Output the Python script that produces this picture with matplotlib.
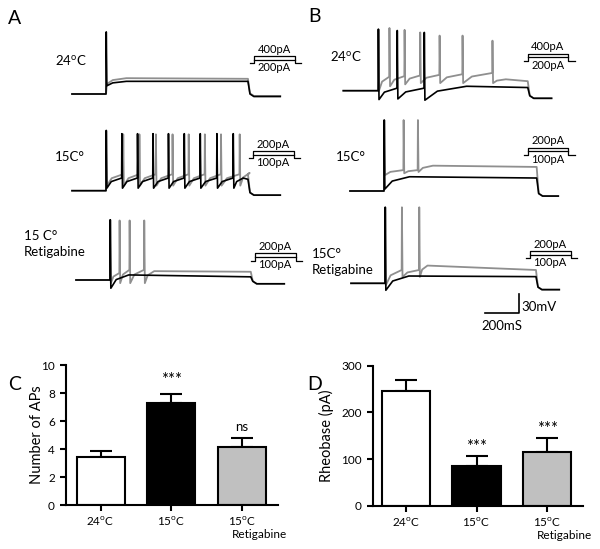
import numpy as np
import matplotlib
matplotlib.use('Agg')
import matplotlib.pyplot as plt

plt.rcParams['font.family'] = ['Lato', 'DejaVu Sans']
plt.rcParams['mathtext.fontset'] = 'custom'
plt.rcParams['mathtext.rm'] = 'Lato'

W, H = 600, 549
MS_PX = 34 / 200.0     # px per ms (scale bar 200 ms)
MV_PX = 19 / 30.0      # px per mV (scale bar 30 mV)
V_REST = -70
T_MAX, V_LO, V_HI = 1300, -125, 55

# ---- bar chart data ----
groups = ['24$^{\\mathregular{o}}$C', '15$^{\\mathregular{o}}$C', '15$^{\\mathregular{o}}$C']
bar_colors = ['white', 'black', '#c0c0c0']
n_aps = [3.45, 7.26, 4.12]
n_aps_err = [0.44, 0.69, 0.68]
n_aps_sig = ['', '***', 'ns']
rheobase = [245, 86, 116]
rheobase_err = [24, 20, 30]
rheobase_sig = ['', '***', '***']

# ---- trace data: spike times (ms), peaks, troughs, thresholds (mV) ----
# A 24C
a24_on, a24_off, a24_after = 200, 1035, -74
a24_k_t, a24_k_pk, a24_k_tr, a24_k_th = [200], [28], [-57], [-70]
a24_k_plat = (-50, -50)
a24_g_plat = (-45, -46)
# A 15C
a15_on, a15_off, a15_after = 200, 1035, -77
a15_k_t = [200, 292, 384, 475, 566, 659, 753, 851, 947]
a15_k_pk = [25, 20, 20, 20, 20, 20, 20, 20, 20]
a15_k_tr = [-66] * 9
a15_k_th = [-70, -50, -50, -50, -50, -50, -50, -50, -50]
a15_k_plat = (-50, -52)
a15_g_t = [200, 300, 395, 492, 590, 685, 780, 875, 985]
a15_g_pk = [25, 19, 19, 19, 19, 19, 19, 19, 19]
a15_g_tr = [-62] * 9
a15_g_th = [-70, -44, -44, -44, -44, -44, -44, -44, -44]
a15_g_plat = (-42, -44)
# A 15C retigabine
ar_on, ar_off, ar_after = 200, 1028, -76
ar_k_t, ar_k_pk, ar_k_tr, ar_k_th = [200], [25], [-83], [-70]
ar_k_plat = (-62, -65)
ar_g_t = [200, 255, 314, 400]
ar_g_pk = [25, 24, 24, 24]
ar_g_tr = [-75, -75, -75, -75]
ar_g_th = [-70, -59, -54, -54]
ar_g_plat = (-56, -57)
# B 24C
b24_on, b24_off, b24_after = 205, 1085, -82
b24_k_t, b24_k_pk = [205, 316, 475], [27, 25, 22]
b24_k_tr, b24_k_th = [-84, -83, -85], [-70, -66, -66]
b24_k_plat = (-63, -65)
b24_g_t = [205, 270, 359, 451, 565, 700, 876]
b24_g_pk = [27, 29, 26, 22, 17, 17, 9]
b24_g_tr = [-70, -63, -60, -58, -58, -58, -58]
b24_g_th = [-70, -48, -47, -46, -45, -44, -42]
b24_g_plat = (-52, -55)
# B 15C
b15_on, b15_off, b15_after = 200, 1098, -78
b15_k_t, b15_k_pk, b15_k_tr, b15_k_th = [200], [42], [-67], [-70]
b15_k_plat = (-47.5, -49.5)
b15_g_t, b15_g_pk = [200, 314, 398], [42, 42, 42]
b15_g_tr, b15_g_th = [-45, -42, -40], [-70, -37, -37]
b15_g_plat = (-30, -32)
# B 15C retigabine
br_on, br_off, br_after = 200, 1088, -80
br_k_t, br_k_pk, br_k_tr, br_k_th = [200], [50], [-81], [-70]
br_k_plat = (-58.5, -59.5)
br_g_t, br_g_pk = [200, 298, 400], [50, 50, 50]
br_g_tr, br_g_th = [-73, -60, -60], [-70, -49, -49]
br_g_plat = (-42, -49)
T_END = 1225

fig = plt.figure(figsize=(6, 5.49), dpi=100)


def px_axes(left, top, right, bottom):
    return fig.add_axes([left / W, 1 - bottom / H, (right - left) / W, (bottom - top) / H])


def trace_axes(x0, y_rest):
    ax = px_axes(x0, y_rest - (V_HI - V_REST) * MV_PX,
                 x0 + T_MAX * MS_PX, y_rest + (V_REST - V_LO) * MV_PX)
    ax.set_xlim(0, T_MAX)
    ax.set_ylim(V_LO, V_HI)
    ax.axis('off')
    ax.patch.set_alpha(0)
    return ax


def build_trace(on, off, after, spk_t, spk_pk, spk_tr, spk_th, plat, settle=120):
    t = [0, on]
    v = [V_REST, V_REST]
    if not spk_t:
        t += [on + 6, on + 40, on + settle]
        v += [plat[0] - 9, plat[0] - 3, plat[0]]
    for i, ts in enumerate(spk_t):
        if ts > on + 1:
            t.append(ts); v.append(spk_th[i])
        t += [ts + 1.5, ts + 5]
        v += [spk_pk[i], spk_tr[i]]
        last = i + 1 == len(spk_t)
        target = plat[0] if last else spk_th[i + 1]
        t_next = ts + settle if last else spk_t[i + 1]
        t.append(ts + 5 + 0.3 * (t_next - ts - 5))
        v.append(spk_tr[i] + 0.65 * (target - spk_tr[i]))
        if last:
            t.append(t_next); v.append(target)
    t += [off, off + 12, off + 35, T_END]
    v += [plat[1], after + 4, after, after]
    return t, v


def draw_pair(ax, gray, black):
    ax.plot(*gray, color='#8f8f8f', lw=1.3, solid_joinstyle='round', clip_on=False)
    ax.plot(*black, color='black', lw=1.2, solid_joinstyle='round', clip_on=False)


ax = trace_axes(72, 94)
draw_pair(ax, build_trace(a24_on, a24_off, a24_after + 1, [], [], [], [], a24_g_plat),
          build_trace(a24_on, a24_off, a24_after, a24_k_t, a24_k_pk, a24_k_tr, a24_k_th, a24_k_plat))
ax = trace_axes(72, 190.7)
draw_pair(ax, build_trace(a15_on, a15_off, a15_after, a15_g_t, a15_g_pk, a15_g_tr, a15_g_th, a15_g_plat, 60),
          build_trace(a15_on, a15_off, a15_after, a15_k_t, a15_k_pk, a15_k_tr, a15_k_th, a15_k_plat, 60))
ax = trace_axes(76, 280)
draw_pair(ax, build_trace(ar_on, ar_off, ar_after, ar_g_t, ar_g_pk, ar_g_tr, ar_g_th, ar_g_plat, 60),
          build_trace(ar_on, ar_off, ar_after, ar_k_t, ar_k_pk, ar_k_tr, ar_k_th, ar_k_plat, 110))
ax = trace_axes(343.3, 90.7)
draw_pair(ax, build_trace(b24_on, b24_off, b24_after, b24_g_t, b24_g_pk, b24_g_tr, b24_g_th, b24_g_plat, 80),
          build_trace(b24_on, b24_off, b24_after, b24_k_t, b24_k_pk, b24_k_tr, b24_k_th, b24_k_plat, 250))
ax = trace_axes(350, 191)
draw_pair(ax, build_trace(b15_on, b15_off, b15_after, b15_g_t, b15_g_pk, b15_g_tr, b15_g_th, b15_g_plat, 90),
          build_trace(b15_on, b15_off, b15_after, b15_k_t, b15_k_pk, b15_k_tr, b15_k_th, b15_k_plat, 150))
ax = trace_axes(351, 283.3)
draw_pair(ax, build_trace(br_on, br_off, br_after, br_g_t, br_g_pk, br_g_tr, br_g_th, br_g_plat, 50),
          build_trace(br_on, br_off, br_after, br_k_t, br_k_pk, br_k_tr, br_k_th, br_k_plat, 140))
# scale bar 200 ms / 30 mV
ax.plot([788, 988, 988], [-117, -117, -87], color='black', lw=1.2, clip_on=False)
ax.text(1000, -108, '30mV', fontsize=9.5, ha='left', va='center')
ax.text(886, -137, '200mS', fontsize=9.5, ha='center', va='center')

# ---- overlay for labels and stimulus icons (pixel coords) ----
ov = fig.add_axes([0, 0, 1, 1])
ov.set_xlim(0, W)
ov.set_ylim(H, 0)
ov.axis('off')
ov.patch.set_alpha(0)

for s, x, y in [('A', 15, 19), ('B', 314, 17), ('C', 15, 385), ('D', 315, 385)]:
    ov.text(x, y, s, fontsize=14, ha='center', va='center')

deg = '$^{\\mathregular{o}}$'
ov.text(55, 60, '24' + deg + 'C', fontsize=9.5, ha='left', va='center')
ov.text(55, 157, '15C°', fontsize=9.5, ha='left', va='center')
ov.text(24, 244, '15 C°\nRetigabine', fontsize=9.5, ha='left', va='center', linespacing=1.3)
ov.text(330, 56, '24' + deg + 'C', fontsize=9.5, ha='left', va='center')
ov.text(336, 157, '15C°', fontsize=9.5, ha='left', va='center')
ov.text(312, 262, '15C°\nRetigabine', fontsize=9.5, ha='left', va='center', linespacing=1.3)


def stim_icon(x, y_base, hi, lo):
    top, mid = y_base - 7.5, y_base - 3.8
    ov.plot([x - 4, x, x, x + 40.5, x + 40.5, x + 47], [y_base, y_base, top, top, y_base, y_base],
            color='black', lw=0.9)
    ov.plot([x, x + 40.5], [mid, mid], color='black', lw=0.9)
    ov.text(x + 20, top - 6.5, hi, fontsize=8, ha='center', va='center')
    ov.text(x + 20, mid + 8, lo, fontsize=8, ha='center', va='center')


stim_icon(254, 63.3, '400pA', '200pA')
stim_icon(253, 158.3, '200pA', '100pA')
stim_icon(255, 260.7, '200pA', '100pA')
stim_icon(527.7, 61, '400pA', '200pA')
stim_icon(527.7, 155, '200pA', '100pA')
stim_icon(530, 258.3, '200pA', '100pA')


# ---- bar charts ----
def bar_panel(ax, vals, errs, sig, ylim, yticks, ylabel, width, sig_y, label_x):
    x = np.arange(len(vals))
    ax.bar(x, vals, width=width, color=bar_colors, edgecolor='black', linewidth=1.5, zorder=2)
    ax.errorbar(x, vals, yerr=[np.zeros(len(vals)), errs], fmt='none', ecolor='black',
                elinewidth=1.5, capsize=8, capthick=1.5, zorder=1)
    for xi, s, yv in zip(x, sig, sig_y):
        if s:
            ax.text(xi, yv, s, ha='center', va='center', fontsize=9.5 if s == 'ns' else 12)
    ax.set_ylim(*ylim)
    ax.set_yticks(yticks)
    ax.set_xticks(x)
    ax.set_xticklabels(groups, fontsize=8.5)
    ax.set_ylabel(ylabel, fontsize=10.5)
    ax.yaxis.set_label_coords(label_x, 0.5)
    for side in ['top', 'right']:
        ax.spines[side].set_visible(False)
    for side in ['left', 'bottom']:
        ax.spines[side].set_linewidth(1.5)
    ax.tick_params(axis='both', width=1.5, length=4, labelsize=8.5)
    ax.tick_params(axis='y', pad=4)
    ax.tick_params(axis='x', pad=3)
    ax.text(1.86, -0.21, 'Retigabine', transform=ax.get_xaxis_transform(), fontsize=8.5,
            ha='left', va='center')
    ax.patch.set_alpha(0)


axc = px_axes(66, 365, 278, 505)
axc.set_xlim(-0.49, 2.51)
bar_panel(axc, n_aps, n_aps_err, n_aps_sig, (0, 10), [0, 2, 4, 6, 8, 10], 'Number of APs',
          0.676, [0, 8.95, 5.6], -0.104)

axd = px_axes(373, 365.7, 583, 506)
axd.set_xlim(-0.47, 2.51)
bar_panel(axd, rheobase, rheobase_err, rheobase_sig, (0, 300), [0, 100, 200, 300], 'Rheobase (pA)',
          0.69, [0, 126, 164], -0.186)

fig.savefig('out.png', dpi=100, facecolor='white')
